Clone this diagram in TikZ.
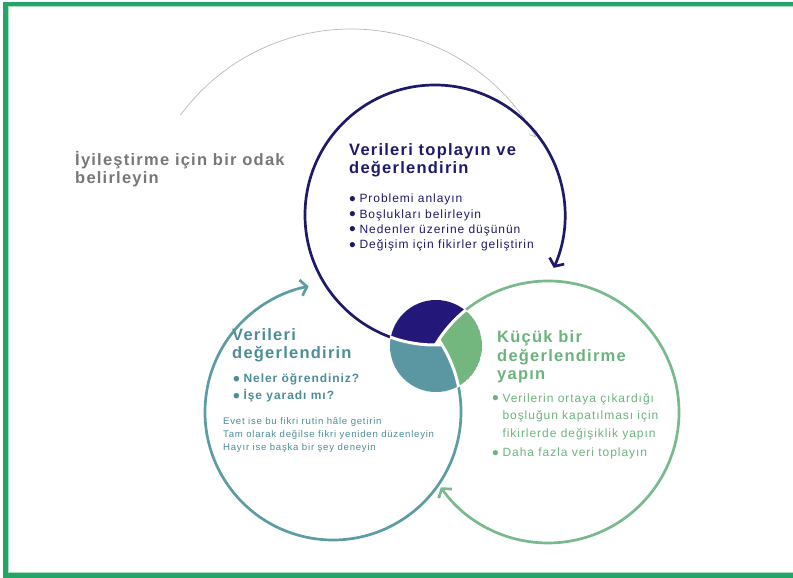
\documentclass[tikz,border=0pt]{standalone}
\usepackage{fontspec}
\setmainfont{Liberation Sans}[LetterSpace=8]
\newfontfamily\titfont{Liberation Sans}[LetterSpace=7.5]
\usepackage{xcolor}
\usepackage{tikz}
\usetikzlibrary{arrows.meta}
\usetikzlibrary{positioning}

\definecolor{marino}{HTML}{1E1A6A}
\definecolor{pieM}{HTML}{23177A}
\definecolor{petroleo}{HTML}{4C8D98}
\definecolor{aroT}{HTML}{5C9CA2}
\definecolor{pieT}{HTML}{5A97A3}
\definecolor{verdeT}{HTML}{6BB37D}
\definecolor{aroV}{HTML}{78B98E}
\definecolor{pieV}{HTML}{73B77F}
\definecolor{grisT}{HTML}{777777}
\definecolor{borde}{HTML}{22A566}
\definecolor{bordeclaro}{HTML}{A8DDBE}

\newcommand{\pto}{\raisebox{-0.2em}[0pt][0pt]{\scalebox{1.6}{\textbullet}}\hspace{0.3em}}

\begin{document}
\begin{tikzpicture}[x=1pt, y=1pt,
    aro/.style={line width=2.7pt},
    punta/.style={-{Straight Barb[length=6pt, width=16pt]}},
    hueco/.style={draw=white, line width=3pt},
    titulo/.style={anchor=base west, inner sep=0pt, align=left, font=\titfont\bfseries\fontsize{16.5}{18.5}\selectfont},
    lista/.style={anchor=base west, inner sep=0pt, align=left, font=\fontsize{12}{15.4}\selectfont}
]
\useasboundingbox (0,0) rectangle (793,578);

% Marco
\draw[borde, line width=4.5pt] (793,574) -- (5.5,574) -- (5.5,2.5) -- (793,2.5);
\draw[bordeclaro, line width=1.2pt] (793,571.2) -- (8.4,571.2) -- (8.4,5.3) -- (793,5.3);

% Centros
\coordinate (cM) at (435,363);
\coordinate (cT) at (333,166);
\coordinate (cV) at (548,166);
\coordinate (P) at (436,232);
\coordinate (cG) at (351,337);

% Flecha gris
\draw[gray!55, line width=0.7pt, -{Straight Barb[length=5pt, width=9pt]}]
  (cG) ++(143.6:212) arc[start angle=143.6, end angle=29.3, radius=212];

% Arcos
\draw[aro, marino, punta] (cM) ++(270:130) arc[start angle=270, end angle=-24, radius=130];
\draw[aro, aroT, punta] (cT) ++(38:128) arc[start angle=38, end angle=-259, radius=128];
\draw[aro, aroV, punta] (cV) ++(149.3:131) arc[start angle=149.3, end angle=-144.9, radius=131];

% Sectores
\begin{scope}
  \clip (P) circle (46);
  \clip (cM) circle (130);
  \fill[pieM, even odd rule] (P) circle (46) (cV) circle (131);
\end{scope}
\begin{scope}
  \clip (P) circle (46);
  \clip (cT) circle (128);
  \fill[pieT, even odd rule] (P) circle (46) (cM) circle (130);
\end{scope}
\begin{scope}
  \clip (P) circle (46);
  \clip (cV) circle (131);
  \fill[pieV, even odd rule] (P) circle (46) (cT) circle (128);
\end{scope}

% Huecos
\begin{scope}
  \clip (P) circle (47);
  \clip (cT) circle (128);
  \draw[hueco] (cM) circle (130);
\end{scope}
\begin{scope}
  \clip (P) circle (47);
  \clip (cM) circle (130);
  \draw[hueco] (cV) circle (131);
\end{scope}
\begin{scope}
  \clip (P) circle (47);
  \clip (cV) circle (131);
  \draw[hueco] (cT) circle (128);
\end{scope}

% Textos (base = ultima linea)
\node[titulo, text=grisT] (foco) at (75,394) {İyileştirme için bir odak\\belirleyin};

\node[titulo, text=marino] (tituloM) at (349,404) {Verileri toplayın ve\\değerlendirin};
\node[lista, text=marino] (listaM) at (349,329) {\pto Problemi anlayın\\\pto Boşlukları belirleyin\\\pto Nedenler üzerine düşünün\\\pto Değişim için fikirler geliştirin};

\node[titulo, text=petroleo] (tituloT) at (232,219) {Verileri\\değerlendirin};
\node[lista, text=petroleo, font=\bfseries\fontsize{12}{17}\selectfont] (listaT) at (233,178) {\pto Neler öğrendiniz?\\\pto İşe yaradı mı?};
\node[lista, text=petroleo, font=\fontsize{9.6}{13}\selectfont] (notaT) at (223,127) {Evet ise bu fikri rutin hâle getirin\\Tam olarak değilse fikri yeniden düzenleyin\\Hayır ise başka bir şey deneyin};

\node[titulo, text=verdeT] (tituloV) at (497,198) {Küçük bir\\değerlendirme\\yapın};
\node[lista, text=verdeT, font=\fontsize{12}{17.5}\selectfont] (listaV) at (492,121) {\pto Verilerin ortaya çıkardığı\\\hphantom{\pto}boşluğun kapatılması için\\\hphantom{\pto}fikirlerde değişiklik yapın\\[2pt]\pto Daha fazla veri toplayın};

\end{tikzpicture}
\end{document}
